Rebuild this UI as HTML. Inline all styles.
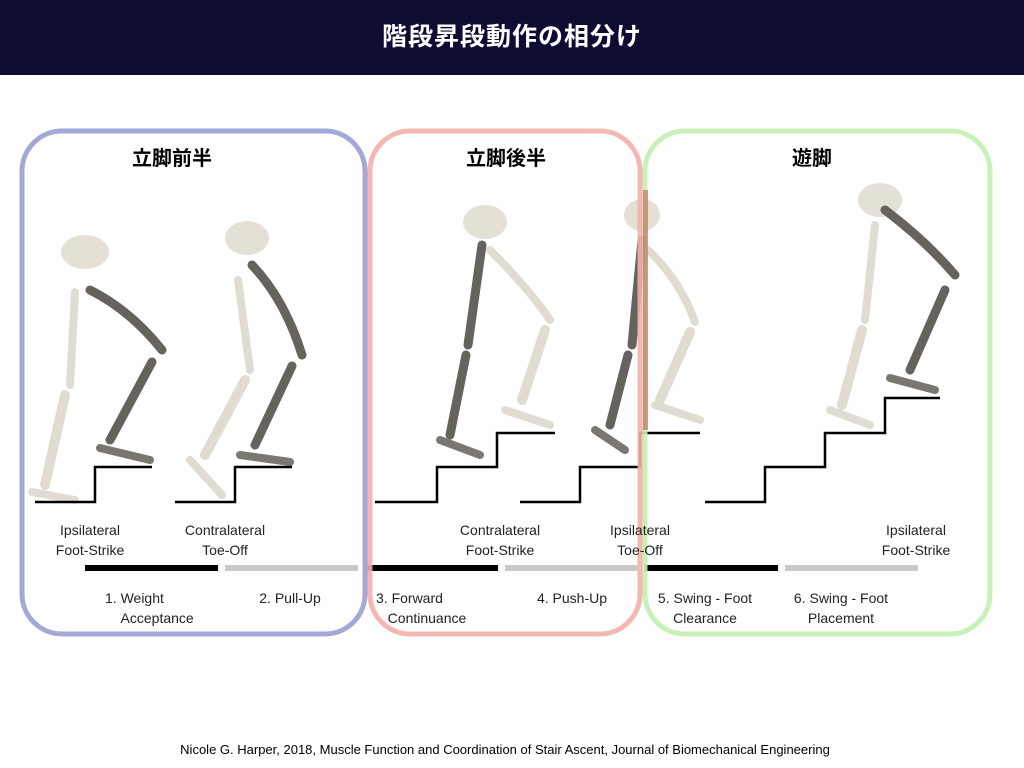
<!DOCTYPE html>
<html><head><meta charset="utf-8">
<style>
body{margin:0;width:1024px;height:768px;background:#fff;overflow:hidden;font-family:"Liberation Sans","Noto Sans CJK JP",sans-serif;position:relative}
.bar{position:absolute;left:0;top:0;width:1024px;height:75px;background:#0e0c33;color:#fff;font-weight:bold;font-size:25px;text-align:center;line-height:75px;letter-spacing:1px}
.t{position:absolute;font-size:14px;color:#222;text-align:center;line-height:20px}
.h{position:absolute;font-size:20px;font-weight:bold;color:#000;font-family:"Noto Sans CJK JP",sans-serif}
.foot{position:absolute;top:742px;left:0;width:1010px;text-align:center;font-size:13px;color:#000}
</style></head><body>
<div class="bar">階段昇段動作の相分け</div>
<svg width="1024" height="768" style="position:absolute;left:0;top:0">
<defs>
<g id="sk">
<ellipse cx="0" cy="0" rx="24" ry="18" fill="#e4e0d6"/>
</g>
</defs>
<g stroke-linecap="round" fill="none">
<!-- panel 1 -->
<ellipse cx="85" cy="252" rx="24" ry="17" fill="#e4e0d6"/>
<path d="M90 290 Q130 310 162 350" stroke="#66625e" stroke-width="9"/>
<path d="M152 362 L110 440" stroke="#66625e" stroke-width="9"/>
<path d="M100 448 L150 460" stroke="#7a7672" stroke-width="8"/>
<path d="M75 292 L70 385" stroke="#e0dcd2" stroke-width="8"/>
<path d="M65 395 L45 485" stroke="#e0dcd2" stroke-width="10"/>
<path d="M32 492 L75 500" stroke="#e0dcd2" stroke-width="8"/>
<!-- panel 2 -->
<ellipse cx="247" cy="238" rx="22" ry="17" fill="#e4e0d6"/>
<path d="M252 265 Q285 300 302 355" stroke="#66625e" stroke-width="9"/>
<path d="M292 366 L255 445" stroke="#66625e" stroke-width="9"/>
<path d="M240 455 L290 462" stroke="#7a7672" stroke-width="8"/>
<path d="M238 280 L250 370" stroke="#e0dcd2" stroke-width="8"/>
<path d="M245 380 L205 455" stroke="#e0dcd2" stroke-width="10"/>
<path d="M190 460 L222 495" stroke="#e0dcd2" stroke-width="8"/>
<!-- panel 3 -->
<ellipse cx="485" cy="222" rx="22" ry="17" fill="#e4e0d6"/>
<path d="M482 245 L468 345" stroke="#66625e" stroke-width="9"/>
<path d="M466 355 L450 435" stroke="#66625e" stroke-width="9"/>
<path d="M440 440 L480 455" stroke="#7a7672" stroke-width="8"/>
<path d="M490 250 Q530 290 550 320" stroke="#e0dcd2" stroke-width="8"/>
<path d="M545 330 L522 400" stroke="#e0dcd2" stroke-width="10"/>
<path d="M505 410 L550 425" stroke="#e0dcd2" stroke-width="8"/>
<!-- panel 4 -->
<ellipse cx="642" cy="215" rx="18" ry="16" fill="#e4e0d6"/>
<path d="M642 240 L632 345" stroke="#66625e" stroke-width="9"/>
<path d="M628 355 L610 425" stroke="#66625e" stroke-width="9"/>
<path d="M595 430 L625 450" stroke="#7a7672" stroke-width="8"/>
<path d="M648 250 Q680 280 695 322" stroke="#e0dcd2" stroke-width="8"/>
<path d="M690 332 L660 400" stroke="#e0dcd2" stroke-width="10"/>
<path d="M655 405 L700 420" stroke="#e0dcd2" stroke-width="8"/>
<!-- panel 6 -->
<ellipse cx="880" cy="200" rx="22" ry="17" fill="#e4e0d6"/>
<path d="M885 210 Q925 240 955 275" stroke="#66625e" stroke-width="9"/>
<path d="M945 290 L910 370" stroke="#66625e" stroke-width="9"/>
<path d="M890 378 L935 390" stroke="#7a7672" stroke-width="8"/>
<path d="M875 225 L865 320" stroke="#e0dcd2" stroke-width="8"/>
<path d="M862 330 L842 405" stroke="#e0dcd2" stroke-width="10"/>
<path d="M830 410 L870 425" stroke="#e0dcd2" stroke-width="8"/>
</g>
<g stroke="#000" stroke-width="2.5" fill="none">
<path d="M35 502 H95 V467 H152"/>
<path d="M175 502 H235 V467 H292"/>
<path d="M375 502 H437 V467 H497 V433 H555"/>
<path d="M520 502 H580 V467 H640 V433 H700"/>
<path d="M705 502 H765 V467 H825 V433 H885 V398 H940"/>
</g>
<g stroke-width="6">
<line x1="85" y1="568" x2="218" y2="568" stroke="#000"/>
<line x1="225" y1="568" x2="358" y2="568" stroke="#c8c8c8"/>
<line x1="365" y1="568" x2="498" y2="568" stroke="#000"/>
<line x1="505" y1="568" x2="638" y2="568" stroke="#c8c8c8"/>
<line x1="645" y1="568" x2="778" y2="568" stroke="#000"/>
<line x1="785" y1="568" x2="918" y2="568" stroke="#c8c8c8"/>
</g>
<g fill="none" stroke-width="5">
<rect x="22" y="131" width="343" height="503" rx="40" stroke="#a3a8d6"/>
<rect x="370" y="131" width="270" height="503" rx="40" stroke="#f2b0a8" opacity="0.9"/>
<rect x="645" y="131" width="345" height="503" rx="40" stroke="#c2f0b2" opacity="0.9"/>
</g>
<rect x="643" y="190" width="5" height="240" fill="#c04040" opacity="0.5"/>
</svg>
<div class="h" style="left:132px;top:142px">立脚前半</div>
<div class="h" style="left:466px;top:142px">立脚後半</div>
<div class="h" style="left:792px;top:142px">遊脚</div>
<div class="t" style="left:40px;top:520px;width:100px">Ipsilateral<br>Foot-Strike</div>
<div class="t" style="left:170px;top:520px;width:110px">Contralateral<br>Toe-Off</div>
<div class="t" style="left:445px;top:520px;width:110px">Contralateral<br>Foot-Strike</div>
<div class="t" style="left:590px;top:520px;width:100px">Ipsilateral<br>Toe-Off</div>
<div class="t" style="left:866px;top:520px;width:100px">Ipsilateral<br>Foot-Strike</div>
<div class="t" style="left:105px;top:588px;width:120px;text-align:left">1. Weight<br>&nbsp;&nbsp;&nbsp;&nbsp;Acceptance</div>
<div class="t" style="left:240px;top:588px;width:100px">2. Pull-Up</div>
<div class="t" style="left:376px;top:588px;width:120px;text-align:left">3. Forward<br>&nbsp;&nbsp;&nbsp;Continuance</div>
<div class="t" style="left:522px;top:588px;width:100px">4. Push-Up</div>
<div class="t" style="left:650px;top:588px;width:110px">5. Swing - Foot<br>Clearance</div>
<div class="t" style="left:786px;top:588px;width:110px">6. Swing - Foot<br>Placement</div>
<div class="foot">Nicole G. Harper, 2018, Muscle Function and Coordination of Stair Ascent, Journal of Biomechanical Engineering</div>
</body></html>
